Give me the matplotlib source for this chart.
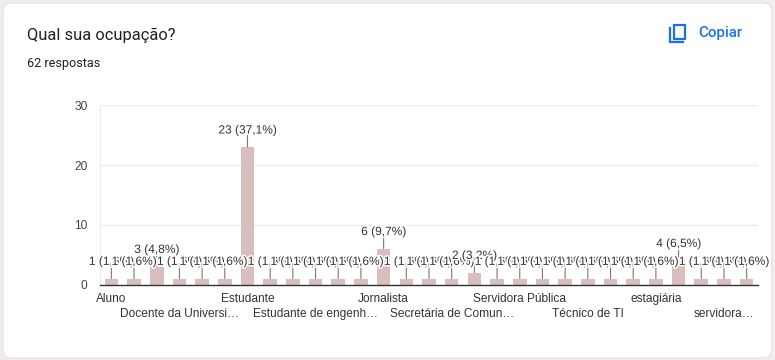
import matplotlib
matplotlib.use("Agg")
import matplotlib.patheffects as pe
import matplotlib.pyplot as plt
import numpy as np
from matplotlib.patches import FancyBboxPatch, Rectangle

W, H = 775, 360

values = [1, 1, 3, 1, 1, 1, 23, 1, 1, 1, 1, 1, 6, 1, 1, 1, 2, 1, 1, 1, 1, 1, 1, 1, 1, 4, 1, 1, 1]
labels = ["1 (1,6%)", "1 (1,6%)", "3 (4,8%)", "1 (1,6%)", "1 (1,6%)", "1 (1,6%)", "23 (37,1%)", "1 (1,6%)",
          "1 (1,6%)", "1 (1,6%)", "1 (1,6%)", "1 (1,6%)", "6 (9,7%)", "1 (1,6%)", "1 (1,6%)", "1 (1,6%)",
          "2 (3,2%)", "1 (1,6%)", "1 (1,6%)", "1 (1,6%)", "1 (1,6%)", "1 (1,6%)", "1 (1,6%)", "1 (1,6%)",
          "1 (1,6%)", "4 (6,5%)", "1 (1,6%)", "1 (1,6%)", "1 (1,6%)"]
tick_names = ["Aluno", "Docente da Universi…", "Estudante", "Estudante de engenh…", "Jornalista",
              "Secretária de Comun…", "Servidora Pública", "Técnico de TI", "estagiária", "servidora…"]
tick_pos = [0, 3, 6, 9, 12, 15, 18, 21, 24, 27]
y_ticks = [0, 10, 20, 30]

BAR = "#d9bebe"
TEXT = "#333333"
BLUE = "#1a73e8"

fig = plt.figure(figsize=(W / 100, H / 100), dpi=100, facecolor="#f1ecef")

# card + header drawn in pixel coordinates
bg = fig.add_axes([0, 0, 1, 1])
bg.set_xlim(0, W)
bg.set_ylim(H, 0)
bg.axis("off")
bg.add_patch(FancyBboxPatch((3, 3), 768.5, 355, boxstyle="round,pad=0,rounding_size=8",
                            fc="white", ec="#e4e0e4", lw=0.8))
bg.text(27, 35, "Qual sua ocupação?", family="Roboto", fontsize=11.85, color="#202124", va="center")
bg.text(27, 64, "62 respostas", family="Roboto", fontsize=9.05, color="#202124", va="center")
bg.text(698, 33.5, "Copiar", family="Roboto", fontsize=10.9, color=BLUE, va="center", weight="medium")
bg.add_patch(Rectangle((674, 24.5), 10.5, 14, fc="none", ec=BLUE, lw=1.6))
bg.plot([670, 670, 683], [28, 42, 42], color=BLUE, lw=1.6, solid_joinstyle="miter")

ax = fig.add_axes([100 / W, 1 - 284.5 / H, 658 / W, (284.5 - 105.4) / H])
ax.patch.set_alpha(0)
x = np.arange(len(values))
ax.bar(x, values, width=0.6, color=BAR, zorder=2)
ax.set_xlim(-0.5, len(values) - 0.5)
ax.set_ylim(0, 30)

ax.set_yticks(y_ticks)
ax.tick_params(axis="y", length=0, pad=9, labelsize=8.6, labelcolor="#444444")
ax.set_xticks(tick_pos)
ax.set_xticklabels([n if i % 2 == 0 else "\n" + n for i, n in enumerate(tick_names)], linespacing=1.36)
ax.tick_params(axis="x", length=0, pad=6, labelsize=8.6, labelcolor=TEXT)
for t in ax.get_xticklabels() + ax.get_yticklabels():
    t.set_family("Liberation Sans")

ax.grid(axis="y", color="#ebebeb", lw=1, zorder=0)
ax.set_axisbelow(True)
for side in ["top", "right"]:
    ax.spines[side].set_visible(False)
ax.spines["left"].set_color("#ebebeb")
ax.spines["bottom"].set_color("#333333")
ax.spines["bottom"].set_linewidth(1)
ax.spines["bottom"].set_zorder(6)

halo = [pe.withStroke(linewidth=2.2, foreground="white")]
for i, (v, lab) in enumerate(zip(values, labels)):
    # leader line then label, in order, so each label covers the one before
    ax.annotate("", xy=(i, v), xytext=(0, 8.5), textcoords="offset points",
                arrowprops=dict(arrowstyle="-", color="#777777", lw=0.8, shrinkA=0, shrinkB=0), zorder=3)
    ax.annotate(lab, xy=(i, v), xytext=(0, 12), textcoords="offset points", ha="center", va="center",
                family="Liberation Sans", fontsize=8.6, color=TEXT, path_effects=halo,
                zorder=4 + i * 0.01, annotation_clip=False)

fig.savefig("out.png", dpi=100, facecolor=fig.get_facecolor())
